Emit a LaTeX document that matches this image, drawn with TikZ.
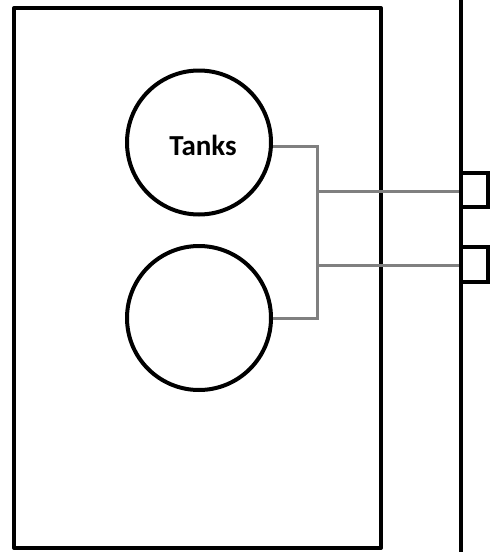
\documentclass[tikz,border=0pt]{standalone}
\usepackage{fontspec}
\setmainfont{Carlito}
\begin{document}
\begin{tikzpicture}[x=1pt,y=-1pt,
  wall/.style={draw=black,line width=4pt,line join=round},
  tank/.style={circle,draw=black,line width=4pt,minimum size=144pt,inner sep=0pt},
  port/.style={draw=black,line width=4pt,minimum width=27pt,minimum height=34pt,inner sep=0pt,line join=miter},
  pipe/.style={draw=gray,line width=3pt}]
\useasboundingbox (0,0) rectangle (490,552);
\clip (0,0) rectangle (490,552);
\fill[white] (0,0) rectangle (490,552);
\node[wall,rectangle,minimum width=367pt,minimum height=540pt,inner sep=0pt] (room) at (197.5,278) {};
\coordinate (wtop) at (461,-5);
\coordinate (wbot) at (461,557);
\node[tank] (tank1) at (199,142.5) {};
\node[tank] (tank2) at (199,318) {};
\node[anchor=base,inner sep=0pt,font=\bfseries\fontsize{29}{34}\selectfont] (label) at (203,155) {Tanks};
\node[port] (port1) at (474.5,190) {};
\node[port,minimum height=35pt] (port2) at (474.5,264.5) {};
\coordinate (bus) at (317,0);
\draw[pipe] ([yshift=-3.5pt]tank1.east) -| (bus |- tank2.east) -- (tank2.east);
\draw[pipe] (bus |- 0,191) -- (port1.west |- 0,191);
\draw[pipe] (bus |- 0,265) -- (port2.west |- 0,265);
\draw[wall] (wtop) -- (wbot);
\node[port] at (port1) {};
\node[port,minimum height=35pt] at (port2) {};
\end{tikzpicture}
\end{document}
